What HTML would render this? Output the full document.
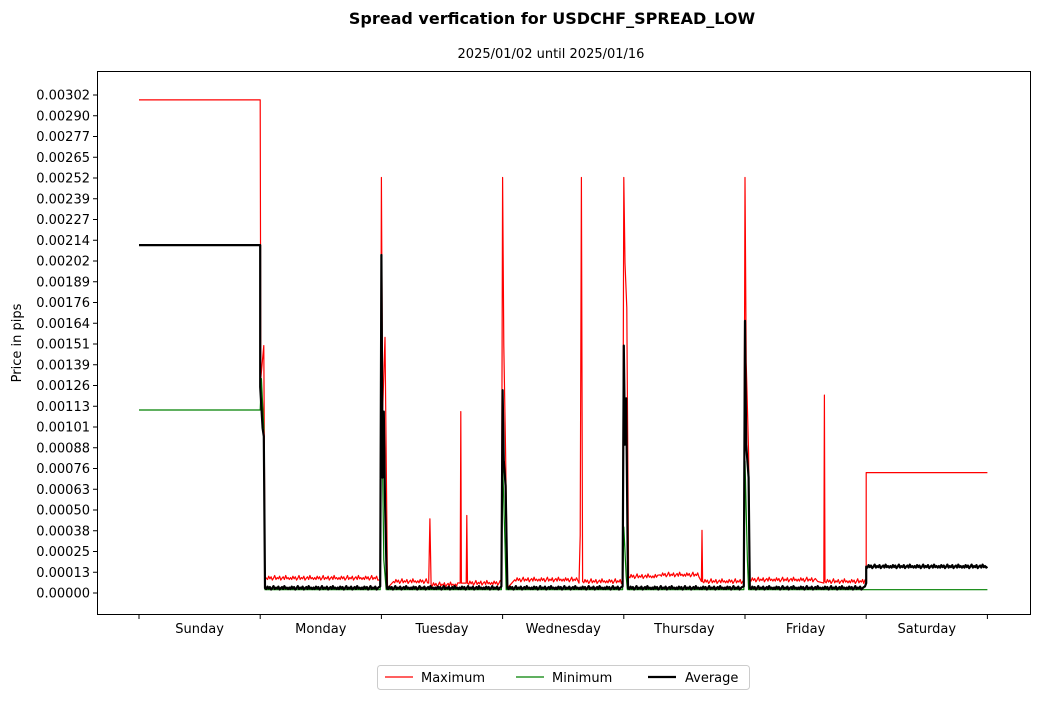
<!DOCTYPE html>
<html><head><meta charset="utf-8"><style>
body{margin:0;background:#fff;font-family:"Liberation Sans","DejaVu Sans",sans-serif}
</style></head><body>
<svg id="c" width="1039" height="700" xmlns="http://www.w3.org/2000/svg" style="font-family:'DejaVu Sans','Liberation Sans',sans-serif">
<text x="552" y="24" text-anchor="middle" font-size="16" font-weight="bold">Spread verfication for USDCHF_SPREAD_LOW</text>
<text x="551" y="58" text-anchor="middle" font-size="13">2025/01/02 until 2025/01/16</text>
<text transform="translate(21,343) rotate(-90)" text-anchor="middle" font-size="13">Price in pips</text>
<g id="ticks"></g>
<g id="series"></g>
<rect x="97.5" y="71.5" width="933" height="543" fill="none" stroke="#000" stroke-width="1"/>
<g>
<rect x="377.5" y="665.5" width="372" height="24" rx="3" fill="#fff" stroke="#ccc"/>
<line x1="385" y1="677" x2="413" y2="677" stroke="red" stroke-width="1.2"/>
<text x="421" y="682" font-size="13">Maximum</text>
<line x1="516" y1="677" x2="544" y2="677" stroke="green" stroke-width="1.2"/>
<text x="552" y="682" font-size="13">Minimum</text>
<line x1="648" y1="677" x2="676" y2="677" stroke="#000" stroke-width="2.2"/>
<text x="685" y="682" font-size="13">Average</text>
</g>
</svg>
<script>
const dayLabels=["Sunday","Monday","Tuesday","Wednesday","Thursday","Friday","Saturday"];
const yTickLabels=["0.00000","0.00013","0.00025","0.00038","0.00050","0.00063","0.00076","0.00088","0.00101","0.00113","0.00126","0.00139","0.00151","0.00164","0.00176","0.00189","0.00202","0.00214","0.00227","0.00239","0.00252","0.00265","0.00277","0.00290","0.00302"];
const noise=[0.9,0.6,1.1,0.7,1.0,0.5,0.8,1.2,0.6,0.9,0.7,1.1,0.5,0.8,1.0,0.6,1.2,0.7,0.9,0.6];
const maxSeries=[[0,0.00299],[1.0,0.00299],[1.005,0.0013],[1.03,0.0015],[1.04,0.0001],[1.05,0.00009],[1.99,0.00008],[2.0,0.00252],[2.01,0.0011],[2.03,0.00155],[2.05,0.00003],[2.1,0.00007],[2.39,0.00006],[2.4,0.00045],[2.41,0.00005],[2.65,0.00006],[2.655,0.0011],[2.66,0.00006],[2.7,0.00006],[2.705,0.00047],[2.71,0.00006],[2.99,0.00007],[3.0,0.00252],[3.01,0.0015],[3.025,0.00085],[3.04,0.00003],[3.1,0.00008],[3.63,0.00006],[3.64,0.00035],[3.65,0.00252],[3.66,0.00007],[3.99,0.00008],[4.0,0.00252],[4.01,0.002],[4.025,0.00173],[4.04,0.0001],[4.3,0.00011],[4.64,0.00007],[4.645,0.00038],[4.65,0.00007],[4.99,0.00008],[5.0,0.00252],[5.01,0.0014],[5.03,0.00085],[5.04,0.00008],[5.6,0.00007],[5.65,0.00006],[5.655,0.0012],[5.66,0.00007],[5.99,0.00008],[6.0,0.00008],[6.0,0.00073],[7.0,0.00073]];
const minSeries=[[0,0.00111],[1.0,0.00111],[1.01,0.0013],[1.03,0.001],[1.04,0.00002],[1.99,0.00002],[2.0,0.0013],[2.02,0.0002],[2.04,0.00002],[2.99,0.00002],[3.0,0.0008],[3.02,0.0003],[3.03,0.00002],[3.99,0.00002],[4.0,0.0004],[4.02,0.0001],[4.03,0.00002],[4.99,0.00002],[5.0,0.0008],[5.02,0.0002],[5.03,0.00002],[7.0,0.00002]];
const avgSeries=[[0,0.00211],[1.0,0.00211],[1.0,0.00125],[1.02,0.001],[1.03,0.00095],[1.04,0.00003],[1.99,0.00004],[2.0,0.00205],[2.01,0.0007],[2.02,0.0011],[2.03,0.00056],[2.045,0.00003],[2.99,0.00004],[3.0,0.00123],[3.01,0.0008],[3.025,0.00065],[3.04,0.00003],[3.99,0.00004],[4.0,0.0015],[4.01,0.0009],[4.02,0.00118],[4.035,0.00003],[4.99,0.00004],[5.0,0.00165],[5.01,0.0009],[5.03,0.0007],[5.04,0.00003],[5.99,0.00004],[6.0,0.00006],[6.0,0.00016],[7.0,0.00016]];
const NS="http://www.w3.org/2000/svg";
const X0=139,DX=121.2,Y0=593,YTOP=95,VTOP=0.00302;
function xs(t){return X0+t*DX;}
function ys(v){return Y0-v/VTOP*(Y0-YTOP);}
const tk=document.getElementById('ticks');
yTickLabels.forEach((l,i)=>{const y=Y0-i*(Y0-YTOP)/(yTickLabels.length-1);
 const ln=document.createElementNS(NS,'line');ln.setAttribute('x1',93);ln.setAttribute('x2',97.5);ln.setAttribute('y1',y);ln.setAttribute('y2',y);ln.setAttribute('stroke','#000');
 
 tk.appendChild(ln);
 const t=document.createElementNS(NS,'text');t.setAttribute('x',90);t.setAttribute('y',y+4.5);t.setAttribute('text-anchor','end');t.setAttribute('font-size','13');t.textContent=l;
 
 tk.appendChild(t);});
for(let d=0;d<=7;d++){const x=xs(d);const ln=document.createElementNS(NS,'line');ln.setAttribute('x1',x);ln.setAttribute('x2',x);ln.setAttribute('y1',614.5);ln.setAttribute('y2',619);ln.setAttribute('stroke','#000');
 
 tk.appendChild(ln);}
dayLabels.forEach((l,i)=>{const t=document.createElementNS(NS,'text');t.setAttribute('x',xs(i+0.5));t.setAttribute('y',633);t.setAttribute('text-anchor','middle');t.setAttribute('font-size','13');t.textContent=l;
 
 tk.appendChild(t);});
// expand flat weekday segments with typed noise
function expand(s,amp){const out=[];for(let i=0;i<s.length;i++){out.push(s[i]);if(i+1<s.length){const a=s[i],b=s[i+1];if(b[0]-a[0]>0.15&&a[1]<0.0002&&b[1]<0.0002){const n=Math.floor((b[0]-a[0])/0.01);for(let k=1;k<n;k++){out.push([a[0]+k*0.01,a[1]+(noise[k%noise.length]-0.8)*amp]);}}}}return out;}
const g=document.getElementById('series');
function draw(s,col,w,name){const p=document.createElementNS(NS,'polyline');p.setAttribute('points',s.map(q=>xs(q[0]).toFixed(1)+','+ys(q[1]).toFixed(1)).join(' '));p.setAttribute('fill','none');p.setAttribute('stroke',col);p.setAttribute('stroke-width',w);p.setAttribute('stroke-linejoin','round');
 
 g.appendChild(p);}
draw(expand(maxSeries,0.00004),'red',1.2,'maximum-line');
draw(minSeries,'green',1.2,'minimum-line');
draw(expand(avgSeries,0.00003),'#000',2.2,'average-line');
</script>
</body></html>
